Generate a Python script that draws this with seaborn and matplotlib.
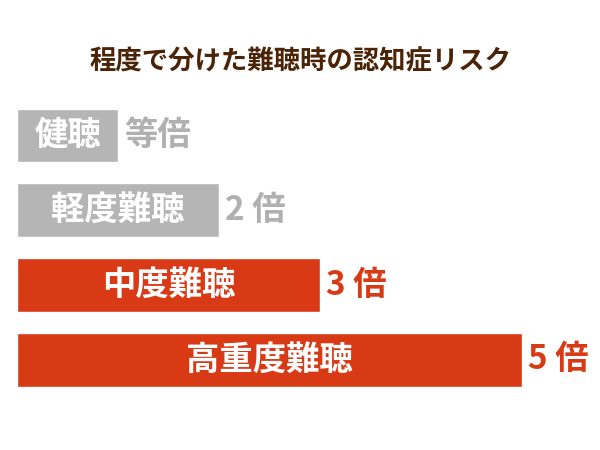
import matplotlib
matplotlib.use("Agg")
import matplotlib.pyplot as plt
import seaborn as sns
import pandas as pd

# data
levels = ["健聴", "軽度難聴", "中度難聴", "高重度難聴"]
risk = [1, 2, 3, 5]
risk_labels = ["等倍", "2 倍", "3 倍", "5 倍"]
bar_colors = ["#b5b5b5", "#b5b5b5", "#d93a16", "#d93a16"]
text_colors = ["#b0b0b0", "#b0b0b0", "#d93a16", "#d93a16"]
title = "程度で分けた難聴時の認知症リスク"

sns.set_theme(style="white")
plt.rcParams["font.family"] = ["Noto Sans CJK JP", "DejaVu Sans"]

df = pd.DataFrame({"level": levels, "risk": risk})

fig = plt.figure(figsize=(6, 4.5), dpi=100)
ax = fig.add_axes([0, 0, 1, 1])
sns.barplot(data=df, x="risk", y="level", hue="level", palette=bar_colors,
            legend=False, width=0.72, orient="h", ax=ax, saturation=1)

ax.set_xlim(-17 / 101, 583 / 101)
ax.set_ylim(4.205, -1.811)
ax.axis("off")

for i, (v, lab, name) in enumerate(zip(risk, risk_labels, levels)):
    ax.text(v / 2, i, name, ha="center", va="center", color="white",
            fontsize=24, fontweight="bold")
    ax.text(v + 0.06, i, lab, ha="left", va="center", color=text_colors[i],
            fontsize=24, fontweight="bold")

fig.text(0.5, 1 - 62 / 450, title, ha="center", va="center",
         color="#4b2306", fontsize=19, fontweight="bold")

fig.savefig("out.png", dpi=100)
